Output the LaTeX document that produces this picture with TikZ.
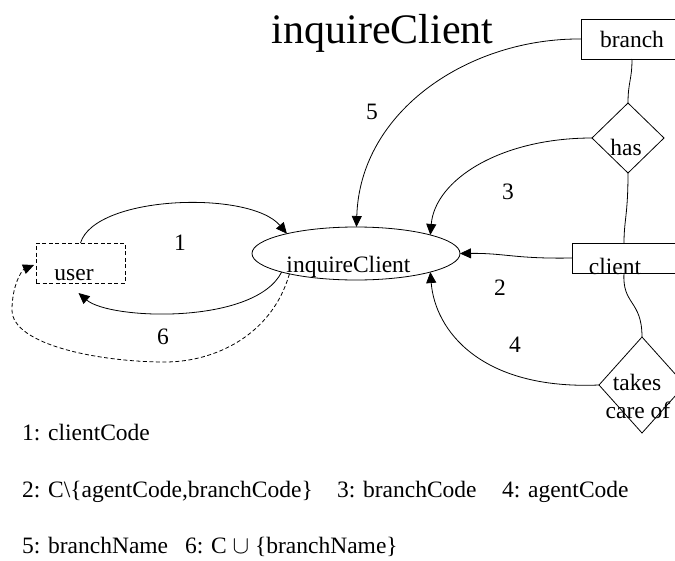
\documentclass[tikz,border=0pt]{standalone}
\usepackage{fontspec}
\setmainfont{Liberation Serif}
\usetikzlibrary{arrows.meta,shapes.geometric}
\newcommand\titlesize{\fontsize{42}{50}\selectfont}
\newcommand\plainsize{\fontsize{23.5}{28}\selectfont}
\begin{document}
\begin{tikzpicture}[x=1pt,y=-1pt,line width=0.8pt,
  every node/.style={font=\plainsize,inner sep=0pt,outer sep=0pt},
  txt/.style={anchor=base},
  legend/.style={anchor=base west},
  entity/.style={draw,rectangle},
  relation/.style={draw,diamond},
  process/.style={draw,ellipse,minimum width=208,minimum height=53},
  extern/.style={draw,rectangle,dash pattern=on 4pt off 2.5pt},
  flow/.style={-{Triangle[length=11pt,width=10pt]}},
  dashflow/.style={flow,dash pattern=on 4pt off 2.5pt}]
\useasboundingbox (0,0) rectangle (675,560);

% title
\node[txt,font=\titlesize] (title) at (382.5,43) {inquireClient};

% entities and relationships on the right
\node[entity,minimum width=102,minimum height=40] (branch) at (632,39) {branch};
\node[relation,minimum width=72,minimum height=70] (has) at (628,138) {};
\node[txt] (hastxt) at (626,155) {has};
\node[entity,minimum width=104,minimum height=30] (client) at (624,258) {};
\node[txt] (clienttxt) at (615,274) {client};
\node[relation,minimum width=86,minimum height=96] (takes) at (642,385) {};
\node[txt] (takestxt) at (637,390) {takes};
\node[txt] (caretxt) at (638,418) {care of};

% process and external user
\node[process] (ie) at (356,253.5) {};
\node[txt] (ietxt) at (348.5,272) {inquireClient};
\node[extern,minimum width=89,minimum height=40] (user) at (80.5,263) {};
\node[txt] (usertxt) at (74,280) {user};

% links between entities and relationships
\draw (branch.south) .. controls (632,80) and (628,82) .. (has.north);
\draw (has.south) .. controls (628,215) and (624,220) .. (client.north);
\draw (client.south) .. controls (622,305) and (642,300) .. (takes.north);

% data flows
\draw[flow] (user.north) .. controls (95,195) and (250,190) .. (ie.164);
\draw[flow] (ie.194) .. controls (255,325) and (110,320) .. ([shift={(-2,10)}]user.south);
\draw[dashflow] (ie.197) .. controls (272,335) and (215,362) .. (165,362)
  .. controls (100,362) and (12,345) .. (12,310)
  .. controls (12,285) and (22,270) .. ([shift={(-2,2)}]user.west);
\draw[flow] (branch.west) .. controls (470,38) and (360,110) .. (ie.89);
\draw[flow] (has.west) .. controls (500,138) and (435,180) .. (ie.14);
\draw[flow] (client.west) .. controls (515,259) and (505,253) .. (ie.east);
\draw[flow] (takes.west) .. controls (480,390) and (435,330) .. (ie.-14);

% flow numbers
\node (n1) at (180,243) {1};
\node (n2) at (500,288) {2};
\node (n3) at (508,192) {3};
\node (n4) at (515,345) {4};
\node (n5) at (372,112) {5};
\node (n6) at (163,337) {6};

% legend
\node[legend] (lg1) at (22,440) {1: clientCode};
\node[legend] (lg2) at (22,497) {2: C\textbackslash\{agentCode,branchCode\}};
\node[legend] (lg3) at (337,497) {3: branchCode};
\node[legend] (lg4) at (502,497) {4: agentCode};
\node[legend] (lg5) at (22,553) {5: branchName};
\node[legend] (lg6) at (185,553) {6: C $\cup$ \{branchName\}};
\end{tikzpicture}
\end{document}
